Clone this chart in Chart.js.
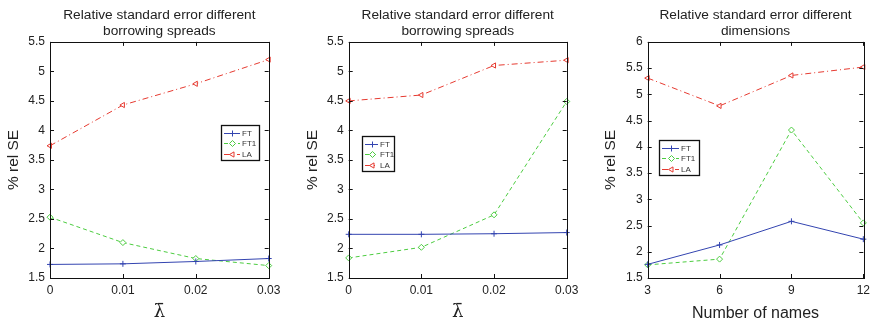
<!DOCTYPE html>
<html>
<head>
<meta charset="utf-8">
<script src="https://cdn.jsdelivr.net/npm/chart.js@4/dist/chart.umd.min.js"></script>
<style>
  body { margin: 0; background: #fff; }
  #wrap { position: relative; width: 875px; height: 324px; overflow: hidden; }
  canvas { position: absolute; top: 0; }
</style>
</head>
<body>
<div id="wrap">
  <canvas id="c1" width="290" height="324" style="left:0px"></canvas>
  <canvas id="c2" width="300" height="324" style="left:290px"></canvas>
  <canvas id="c3" width="285" height="324" style="left:590px"></canvas>
</div>
<script>
// Data
const seriesNames = ['FT', 'FT1', 'LA'];
const spreadLabels = ['0', '0.01', '0.02', '0.03'];
const namesLabels = ['3', '6', '9', '12'];

// panel 1: borrowing spreads
const p1FT  = [1.73, 1.74, 1.78, 1.83];
const p1FT1 = [2.53, 2.10, 1.83, 1.71];
const p1LA  = [3.74, 4.43, 4.79, 5.20];

// panel 2: borrowing spreads
const p2FT  = [2.24, 2.24, 2.25, 2.27];
const p2FT1 = [1.84, 2.02, 2.57, 4.49];
const p2LA  = [4.50, 4.60, 5.10, 5.19];

// panel 3: dimensions
const p3FT  = [1.76, 2.13, 2.58, 2.24];
const p3FT1 = [1.75, 1.86, 4.32, 2.55];
const p3LA  = [5.31, 4.78, 5.36, 5.52];

const colors = ['#3344b0', '#4ccc40', '#e63a30'];
const dashes = [[], [4, 3], [6, 3, 1, 3]];
const pointStyles = ['cross', 'rectRot', 'triangle'];
const pointRotations = [0, 0, -90];

const sansFont = '"Liberation Sans", Arial, sans-serif';

// box round the plot with inward ticks on all four sides
const framePlugin = {
  id: 'frame',
  afterDraw(chart) {
    const { ctx, chartArea: a, scales } = chart;
    ctx.save();
    ctx.strokeStyle = '#111';
    ctx.lineWidth = 1;
    ctx.beginPath();
    const tl = 4;
    scales.x.ticks.forEach((t, i) => {
      const px = Math.round(scales.x.getPixelForTick(i)) + 0.5;
      ctx.moveTo(px, a.bottom); ctx.lineTo(px, a.bottom - tl);
      ctx.moveTo(px, a.top); ctx.lineTo(px, a.top + tl);
    });
    scales.y.ticks.forEach((t, i) => {
      const py = Math.round(scales.y.getPixelForTick(i)) + 0.5;
      ctx.moveTo(a.left, py); ctx.lineTo(a.left + tl, py);
      ctx.moveTo(a.right, py); ctx.lineTo(a.right - tl, py);
    });
    ctx.stroke();
    ctx.strokeRect(Math.round(a.left) + 0.5, Math.round(a.top) + 0.5,
      Math.round(a.right - a.left), Math.round(a.bottom - a.top));
    ctx.restore();
  }
};

// small boxed legend inside the plot, MATLAB style
const boxLegendPlugin = {
  id: 'boxLegend',
  afterDraw(chart, args, opts) {
    const { ctx, chartArea: a } = chart;
    const x0 = Math.round(a.left + opts.fx * (a.right - a.left));
    const y0 = Math.round(a.top + opts.fy * (a.bottom - a.top));
    const w = opts.w, h = 35;
    ctx.save();
    ctx.fillStyle = '#fff';
    ctx.fillRect(x0, y0, w, h);
    ctx.strokeStyle = '#111';
    ctx.lineWidth = 1.3;
    ctx.strokeRect(x0 + 0.5, y0 + 0.5, w, h);
    ctx.font = '8px ' + sansFont;
    ctx.textBaseline = 'middle';
    chart.data.datasets.forEach((ds, i) => {
      const y = Math.round(y0 + 7.5 + i * 10.5) + 0.5;
      const mx = x0 + 3 + Math.round((opts.lineEnd - 3) / 2) + 0.5;
      ctx.strokeStyle = ds.borderColor;
      ctx.lineWidth = 1;
      ctx.setLineDash(ds.borderDash);
      ctx.beginPath();
      ctx.moveTo(x0 + 3, y);
      ctx.lineTo(x0 + opts.lineEnd, y);
      ctx.stroke();
      ctx.setLineDash([]);
      ctx.fillStyle = '#fff';
      Chart.helpers.drawPoint(ctx, {
        pointStyle: ds.pointStyle, rotation: ds.pointRotation,
        radius: 3, borderWidth: 1
      }, mx, y);
      ctx.fillStyle = '#333';
      ctx.fillText(ds.label, x0 + opts.lineEnd + 2, y);
    });
    ctx.restore();
  }
};

function makePanel(id, opt) {
  const datasets = opt.values.map((vals, i) => ({
    label: seriesNames[i],
    data: vals,
    borderColor: colors[i],
    backgroundColor: '#fff',
    borderWidth: 1,
    borderDash: dashes[i],
    pointStyle: pointStyles[i],
    pointRotation: pointRotations[i],
    pointRadius: 3,
    pointBorderWidth: 1,
    tension: 0
  }));

  return new Chart(document.getElementById(id), {
    type: 'line',
    data: { labels: opt.labels, datasets },
    options: {
      responsive: false,
      animation: false,
      layout: { padding: { top: 7, right: opt.padRight, bottom: 0, left: 0 } },
      plugins: {
        legend: { display: false },
        tooltip: { enabled: false },
        title: {
          display: true,
          fullSize: false,
          text: opt.title,
          color: '#222',
          font: { family: sansFont, size: 13.7, weight: 'normal', lineHeight: 1.2 },
          padding: { top: 0, bottom: 2 }
        },
        boxLegend: opt.legend
      },
      scales: {
        x: {
          type: 'category',
          offset: false,
          grid: { display: false, drawTicks: false },
          border: { display: false },
          ticks: {
            color: '#222', padding: 5, maxRotation: 0,
            font: { family: sansFont, size: 12 }
          },
          title: {
            display: true,
            text: opt.xTitle,
            color: '#222',
            font: opt.xTitleFont,
            padding: { top: 0, bottom: 1 }
          },
          afterFit(scale) { scale.height = 46; }
        },
        y: {
          min: opt.yMin,
          max: opt.yMax,
          grid: { display: false, drawTicks: false },
          border: { display: false },
          ticks: {
            stepSize: 0.5, color: '#222', padding: 5,
            font: { family: sansFont, size: 12 },
            callback: (v) => String(v)
          },
          title: {
            display: true,
            text: '% rel SE',
            color: '#222',
            font: { family: sansFont, size: 15.5 },
            padding: { top: opt.yTitlePad, bottom: 0 }
          },
          afterFit(scale) { scale.width = opt.yWidth; }
        }
      }
    },
    plugins: [framePlugin, boxLegendPlugin]
  });
}

const lambdaFont = { family: '"DejaVu Serif", serif', size: 18 };

makePanel('c1', {
  labels: spreadLabels,
  values: [p1FT, p1FT1, p1LA],
  title: ['Relative standard error different', 'borrowing spreads'],
  xTitle: '\u03BB\u0304',
  xTitleFont: lambdaFont,
  yMin: 1.5, yMax: 5.5,
  yWidth: 50, padRight: 21.3, yTitlePad: 4,
  legend: { fx: 0.78, fy: 0.35, w: 38, lineEnd: 19 }
});

makePanel('c2', {
  labels: spreadLabels,
  values: [p2FT, p2FT1, p2LA],
  title: ['Relative standard error different', 'borrowing spreads'],
  xTitle: '\u03BB\u0304',
  xTitleFont: lambdaFont,
  yMin: 1.5, yMax: 5.5,
  yWidth: 58.7, padRight: 23.3, yTitlePad: 13,
  legend: { fx: 0.062, fy: 0.40, w: 32, lineEnd: 16 }
});

makePanel('c3', {
  labels: namesLabels,
  values: [p3FT, p3FT1, p3LA],
  title: ['Relative standard error different', 'dimensions'],
  xTitle: 'Number of names',
  xTitleFont: { family: sansFont, size: 16 },
  yMin: 1.5, yMax: 6,
  yWidth: 57.7, padRight: 7.7, yTitlePad: 11,
  legend: { fx: 0.053, fy: 0.415, w: 40, lineEnd: 20 }
});
</script>
</body>
</html>
